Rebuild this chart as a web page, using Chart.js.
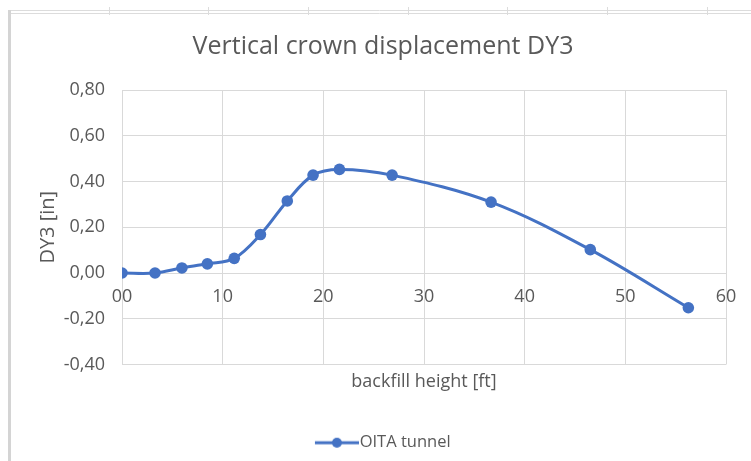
<!DOCTYPE html>
<html>
<head>
<meta charset="utf-8">
<title>Vertical crown displacement DY3</title>
<script src="https://cdn.jsdelivr.net/npm/chart.js@4.4.1/dist/chart.umd.min.js"></script>
<style>
  html, body { margin: 0; padding: 0; background: #ffffff; }
  #wrap { width: 751px; height: 461px; }
</style>
</head>
<body>
<div id="wrap"><canvas id="chart" width="751" height="461"></canvas></div>
<script>
// Backfill height [ft] at each construction stage
const backfillHeight = [0, 3.28, 5.95, 8.48, 11.15, 13.75, 16.42, 18.98, 21.6, 26.83, 36.66, 46.52, 56.26];
// Vertical crown displacement DY3 [in]
const crownDY3 = [0.000, 0.000, 0.022, 0.040, 0.064, 0.168, 0.315, 0.428, 0.453, 0.428, 0.310, 0.102, -0.152];

const seriesName = 'OITA tunnel';
const chartTitle = 'Vertical crown displacement DY3';
const xTitle = 'backfill height [ft]';
const yTitle = 'DY3 [in]';
const xRange = { min: 0, max: 60, step: 10 };
const yRange = { min: -0.4, max: 0.8, step: 0.2 };

const BLUE = '#4472C4';
const TEXT = '#595959';
const GRID = '#d9d9d9';
const FONT = "'Open Sans', 'DejaVu Sans', sans-serif";

// Legend swatch: a short line with a round marker in the middle,
// drawn a little left of centre so it sits close to the label text
function legendSwatch() {
  const c = document.createElement('canvas');
  c.width = 51; c.height = 12;
  const g = c.getContext('2d');
  g.strokeStyle = BLUE; g.lineWidth = 3;
  g.beginPath(); g.moveTo(7, 6); g.lineTo(51, 6); g.stroke();
  g.fillStyle = BLUE;
  g.beginPath(); g.arc(29, 6, 5, 0, Math.PI * 2); g.fill();
  return c;
}
const swatch = legendSwatch();

// Spreadsheet cell borders showing around the chart object
const sheetBackdrop = {
  id: 'sheetBackdrop',
  beforeDraw(chart) {
    const ctx = chart.ctx;
    ctx.save();
    ctx.fillStyle = '#ffffff';
    ctx.fillRect(0, 0, chart.width, chart.height);
    ctx.strokeStyle = '#dcdcdc';
    ctx.lineWidth = 1;
    ctx.beginPath();
    ctx.moveTo(8, 10.5); ctx.lineTo(chart.width, 10.5);
    ctx.moveTo(8, 13.5); ctx.lineTo(chart.width, 13.5);
    [109, 208, 308, 408, 507, 607, 707].forEach(x => {
      ctx.moveTo(x + 0.5, 7); ctx.lineTo(x + 0.5, 15);
    });
    ctx.stroke();
    ctx.strokeStyle = '#d4d4d4';
    ctx.lineWidth = 3;
    ctx.beginPath();
    ctx.moveTo(9.5, 10); ctx.lineTo(9.5, chart.height);
    ctx.stroke();
    ctx.restore();
  }
};

const points = backfillHeight.map((x, i) => ({ x: x, y: crownDY3[i] }));

new Chart(document.getElementById('chart'), {
  type: 'scatter',
  data: {
    datasets: [{
      label: seriesName,
      data: points,
      showLine: true,
      borderColor: BLUE,
      backgroundColor: BLUE,
      borderWidth: 3,
      tension: 0.35,
      pointRadius: 5.8,
      pointHoverRadius: 5.8,
      pointBackgroundColor: BLUE,
      pointBorderColor: BLUE,
      pointBorderWidth: 0,
      xAxisID: 'x',
      yAxisID: 'y'
    }]
  },
  options: {
    responsive: false,
    devicePixelRatio: 1,
    animation: false,
    events: [],
    layout: { padding: { left: 40, right: 25, top: 0, bottom: 0 } },
    plugins: {
      title: {
        display: true,
        text: chartTitle,
        color: TEXT,
        font: { family: FONT, size: 25, weight: 'normal' },
        padding: { top: 32, bottom: 28 }
      },
      legend: {
        display: true,
        position: 'bottom',
        labels: {
          color: TEXT,
          font: { family: FONT, size: 16.5 },
          usePointStyle: true,
          pointStyleWidth: 36,
          boxHeight: 12,
          padding: 11,
          generateLabels: () => [{
            text: seriesName,
            pointStyle: swatch,
            fillStyle: BLUE,
            strokeStyle: BLUE,
            lineWidth: 0,
            fontColor: TEXT,
            hidden: false,
            datasetIndex: 0
          }]
        }
      },
      tooltip: { enabled: false }
    },
    scales: {
      x: {
        type: 'linear',
        position: { y: 0 },
        min: xRange.min,
        max: xRange.max,
        ticks: {
          stepSize: xRange.step,
          color: TEXT,
          font: { family: FONT, size: 18 },
          padding: 13,
          maxRotation: 0,
          callback: v => (v === 0 ? '00' : String(v))
        },
        grid: { color: GRID, lineWidth: 1, drawTicks: false },
        border: { display: false },
        title: { display: false }
      },
      xTitleAxis: {
        type: 'linear',
        position: 'bottom',
        min: xRange.min,
        max: xRange.max,
        ticks: { display: false },
        grid: { display: false, drawTicks: false },
        border: { display: false },
        title: {
          display: true,
          text: xTitle,
          color: TEXT,
          font: { family: FONT, size: 18 },
          padding: { top: 4, bottom: 31 }
        },
        afterFit: s => { s.height = 59; }
      },
      y: {
        type: 'linear',
        min: yRange.min,
        max: yRange.max,
        ticks: {
          stepSize: yRange.step,
          color: TEXT,
          font: { family: FONT, size: 18 },
          padding: 17,
          callback: v => v.toFixed(2).replace('.', ',')
        },
        grid: { color: GRID, lineWidth: 1, drawTicks: false },
        border: { display: false },
        title: {
          display: true,
          text: yTitle,
          color: TEXT,
          font: { family: FONT, size: 20, lineHeight: 0.8 },
          padding: { top: 0, bottom: 0 }
        },
        afterFit: s => { s.width = 82; }
      }
    }
  },
  plugins: [sheetBackdrop]
});
</script>
</body>
</html>
